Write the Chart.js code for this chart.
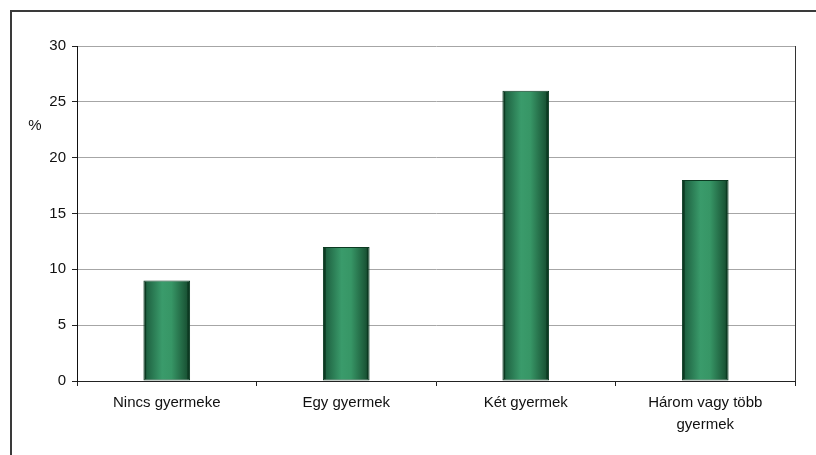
<!DOCTYPE html>
<html>
<head>
<meta charset="utf-8">
<script src="https://cdn.jsdelivr.net/npm/chart.js@4/dist/chart.umd.min.js"></script>
<style>
    html, body { margin: 0; padding: 0; background: #fff; }
    #wrap { width: 816px; height: 455px; }
</style>
</head>
<body>
<div id="wrap"><canvas id="gyermekChart" width="816" height="455"></canvas></div>
<script>
const categories = ['Nincs gyermeke', 'Egy gyermek', 'Két gyermek', ['Három vagy több', 'gyermek']];
const values = [9, 12, 26, 18];
const yTicks = [0, 5, 10, 15, 20, 25, 30];
const unitLabel = '%';

const barPercentage = 0.26;

// green bars shaded dark at the edges and light in the middle
function barGradient(context) {
    const chart = context.chart;
    const xScale = chart.scales.x;
    if (!xScale || !chart.chartArea) {
        return '#2e8b5a';
    }
    const center = xScale.getPixelForValue(context.dataIndex);
    const slot = (chart.chartArea.right - chart.chartArea.left) / categories.length;
    const half = slot * barPercentage / 2;
    const g = chart.ctx.createLinearGradient(center - half, 0, center + half, 0);
    g.addColorStop(0, '#0c3a22');
    g.addColorStop(0.05, '#0c3a22');
    g.addColorStop(0.07, '#1f6342');
    g.addColorStop(0.4, '#3a9b6b');
    g.addColorStop(0.6, '#379666');
    g.addColorStop(0.93, '#1a5536');
    g.addColorStop(0.95, '#0c3a22');
    g.addColorStop(1, '#0c3a22');
    return g;
}

// frame round the whole picture, right edge of the plot and the % label
const framePlugin = {
    id: 'frame',
    afterDraw(chart) {
        const ctx = chart.ctx;
        const area = chart.chartArea;
        ctx.save();
        ctx.strokeStyle = '#3a3a3a';
        ctx.lineWidth = 2;
        ctx.strokeRect(11, 11, 900, 600);

        ctx.strokeStyle = '#333';
        ctx.lineWidth = 1;
        ctx.beginPath();
        ctx.moveTo(Math.round(area.right) + 0.5, area.top);
        ctx.lineTo(Math.round(area.right) + 0.5, area.bottom);
        ctx.stroke();

        ctx.fillStyle = '#111';
        ctx.font = '15px "Liberation Sans", Arial, sans-serif';
        ctx.textAlign = 'center';
        ctx.textBaseline = 'middle';
        ctx.fillText(unitLabel, 35, 126);
        ctx.restore();
    }
};

const data = {
    labels: categories,
    datasets: [
        {
            data: values,
            backgroundColor: barGradient,
            borderColor: '#0c3a22',
            borderWidth: 1,
            borderSkipped: false,
            barPercentage: barPercentage,
            categoryPercentage: 1.0
        }
    ]
};

const config = {
    type: 'bar',
    data: data,
    options: {
        responsive: false,
        animation: false,
        layout: {
            padding: { top: 46, right: 21, left: 0, bottom: 0 }
        },
        plugins: {
            legend: { display: false },
            tooltip: { enabled: false }
        },
        scales: {
            x: {
                afterFit: function(scale) { scale.height = 74; },
                grid: {
                    display: true,
                    offset: true,
                    drawOnChartArea: false,
                    drawTicks: true,
                    tickLength: 5,
                    color: '#222'
                },
                border: { display: true, color: '#222', width: 1 },
                ticks: {
                    color: '#111',
                    padding: 6,
                    maxRotation: 0,
                    autoSkip: false,
                    font: { family: '"Liberation Sans", Arial, sans-serif', size: 15, lineHeight: 1.45 }
                }
            },
            y: {
                min: 0,
                max: 30,
                afterFit: function(scale) { scale.width = 77; },
                afterBuildTicks: function(scale) {
                    scale.ticks = yTicks.map(v => ({ value: v }));
                },
                grid: {
                    color: '#a6a6a6',
                    tickColor: '#222',
                    tickLength: 5,
                    drawTicks: true
                },
                border: { display: true, color: '#111', width: 1 },
                ticks: {
                    color: '#111',
                    padding: 6,
                    font: { family: '"Liberation Sans", Arial, sans-serif', size: 15 }
                }
            }
        }
    },
    plugins: [framePlugin]
};

const ctx = document.getElementById('gyermekChart').getContext('2d');
new Chart(ctx, config);
</script>
</body>
</html>
